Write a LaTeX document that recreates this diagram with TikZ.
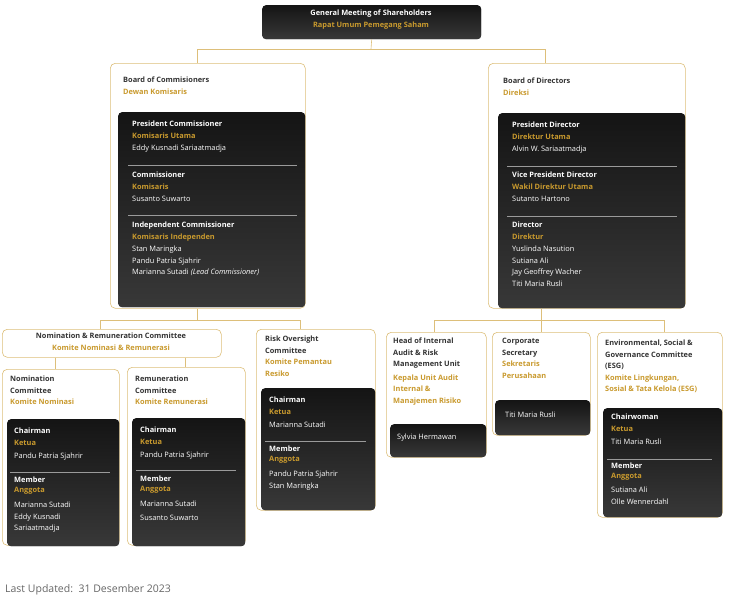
\documentclass[tikz,border=0pt]{standalone}
\usepackage{fontspec}
\setmainfont{Open Sans}
\usetikzlibrary{calc,positioning}
\definecolor{gold}{HTML}{C99A2E}
\definecolor{goldline}{HTML}{DDBF7A}
\definecolor{darkbox}{HTML}{262626}
\definecolor{titlegray}{HTML}{333333}
\definecolor{rulegray}{HTML}{9A9A9A}
\newcommand{\gd}[1]{\textcolor{gold}{\textbf{#1}}}
\newcommand{\hd}[1]{\textbf{#1}}
\tikzstyle{outerbox}=[draw=goldline,fill=white,rounded corners=5pt,line width=0.6pt,anchor=north west,inner sep=0pt]
\tikzstyle{innerbox}=[fill=darkbox,rounded corners=4pt,anchor=north west,inner sep=0pt,top color=black!92,bottom color=black!78]
\tikzstyle{head}=[anchor=north west,inner sep=0pt,align=left,text=titlegray,font=\fontsize{7.4}{11.5}\selectfont]
\tikzstyle{body}=[anchor=north west,inner sep=0pt,align=left,text=white,font=\fontsize{7.4}{11.5}\selectfont]
\tikzstyle{link}=[draw=goldline,line width=0.6pt]
\tikzstyle{divider}=[draw=rulegray,line width=0.6pt]

\begin{document}
\begin{tikzpicture}[x=1pt,y=-1pt]
    \useasboundingbox (0,0) rectangle (730,600);

    % top
    \node[innerbox,minimum width=219pt,minimum height=34pt] (gms) at (262,5) {};
    \node[body,anchor=north,align=center] at (371,10) {\hd{General Meeting of Shareholders}\\\gd{Rapat Umum Pemegang Saham}};

    % boards
    \node[outerbox,minimum width=195pt,minimum height=245pt] (boc) at (110,63) {};
    \node[innerbox,minimum width=187pt,minimum height=195pt] (bocin) at (118,112) {};
    \node[head] at (123,77) {\hd{Board of Commisioners}\\\gd{Dewan Komisaris}};
    \node[body] at (132,121) {\hd{President Commissioner}\\\gd{Komisaris Utama}\\[1pt]Eddy Kusnadi Sariaatmadja};
    \draw[divider] (128,165) -- (297,165);
    \node[body] at (132,172) {\hd{Commissioner}\\\gd{Komisaris}\\[1pt]Susanto Suwarto};
    \draw[divider] (128,215) -- (297,215);
    \node[body] at (132,222) {\hd{Independent Commissioner}\\\gd{Komisaris Independen}\\[1pt]Stan Maringka\\Pandu Patria Sjahrir\\Marianna Sutadi \textit{(Lead Commissioner)}};

    \node[outerbox,minimum width=197pt,minimum height=245pt] (bod) at (488,63) {};
    \node[innerbox,minimum width=187pt,minimum height=195pt] (bodin) at (498,113) {};
    \node[head] at (503,78) {\hd{Board of Directors}\\\gd{Direksi}};
    \node[body] at (512,122) {\hd{President Director}\\\gd{Direktur Utama}\\[1pt]Alvin W. Sariaatmadja};
    \draw[divider] (507,166) -- (677,166);
    \node[body] at (512,172) {\hd{Vice President Director}\\\gd{Wakil Direktur Utama}\\[1pt]Sutanto Hartono};
    \draw[divider] (507,216) -- (677,216);
    \node[body] at (512,222) {\hd{Director}\\\gd{Direktur}\\[1pt]Yuslinda Nasution\\Sutiana Ali\\Jay Geoffrey Wacher\\Titi Maria Rusli};

    % committees under commissioners
    \node[outerbox,minimum width=219pt,minimum height=28pt] (nrc) at (2,329) {};
    \node[head,anchor=north,align=center] at (111,333) {\hd{Nomination \& Remuneration Committee}\\\gd{Komite Nominasi \& Remunerasi}};

    \node[outerbox,minimum width=117pt,minimum height=176pt] (nom) at (2,369) {};
    \node[innerbox,minimum width=112pt,minimum height=127pt] (nomin) at (7,419) {};
    \node[head] at (10,376) {\hd{Nomination}\\\hd{Committee}\\\gd{Komite Nominasi}};
    \node[body] at (14,428) {\hd{Chairman}\\\gd{Ketua}\\[2pt]Pandu Patria Sjahrir};
    \draw[divider] (10,472) -- (110,472);
    \node[body] at (14,477) {\hd{Member}\\[-2pt]\gd{Anggota}\\[4pt]Marianna Sutadi\\Eddy Kusnadi\\Sariaatmadja};

    \node[outerbox,minimum width=118pt,minimum height=178pt] (rem) at (127,367) {};
    \node[innerbox,minimum width=113pt,minimum height=128pt] (remin) at (132,418) {};
    \node[head] at (135,376) {\hd{Remuneration}\\\hd{Committee}\\\gd{Komite Remunerasi}};
    \node[body] at (140,427) {\hd{Chairman}\\\gd{Ketua}\\[2pt]Pandu Patria Sjahrir};
    \draw[divider] (136,470) -- (236,470);
    \node[body] at (140,476) {\hd{Member}\\[-2pt]\gd{Anggota}\\[4pt]Marianna Sutadi\\[2pt]Susanto Suwarto};

    \node[outerbox,minimum width=119pt,minimum height=181pt] (roc) at (256,329) {};
    \node[innerbox,minimum width=114pt,minimum height=122pt] (rocin) at (261,388) {};
    \node[head] at (265,336) {\hd{Risk Oversight}\\\hd{Committee}\\\gd{Komite Pemantau}\\\gd{Resiko}};
    \node[body] at (269,397) {\hd{Chairman}\\\gd{Ketua}\\[2pt]Marianna Sutadi};
    \draw[divider] (265,441) -- (366,441);
    \node[body] at (269,446) {\hd{Member}\\[-2pt]\gd{Anggota}\\[4pt]Pandu Patria Sjahrir\\Stan Maringka};

    % units under directors
    \node[outerbox,minimum width=100pt,minimum height=125pt] (aud) at (386,332) {};
    \node[innerbox,minimum width=96pt,minimum height=33pt] (audin) at (390,424) {};
    \node[head] at (393,338) {\hd{Head of Internal}\\\hd{Audit \& Risk}\\\hd{Management Unit}\\[2pt]\gd{Kepala Unit Audit}\\\gd{Internal \&}\\\gd{Manajemen Risiko}};
    \node[body] at (397,434) {Sylvia Hermawan};

    \node[outerbox,minimum width=98pt,minimum height=103pt] (sec) at (492,332) {};
    \node[innerbox,minimum width=95pt,minimum height=35pt] (secin) at (495,400) {};
    \node[head] at (502,338) {\hd{Corporate}\\\hd{Secretary}\\\gd{Sekretaris}\\\gd{Perusahaan}};
    \node[body] at (505,412) {Titi Maria Rusli};

    \node[outerbox,minimum width=125pt,minimum height=185pt] (esg) at (597,332) {};
    \node[innerbox,minimum width=119pt,minimum height=109pt] (esgin) at (603,408) {};
    \node[head] at (605,340) {\hd{Environmental, Social \&}\\\hd{Governance Committee}\\\hd{(ESG)}\\\gd{Komite Lingkungan,}\\\gd{Sosial \& Tata Kelola (ESG)}};
    \node[body] at (611,414) {\hd{Chairwoman}\\\gd{Ketua}\\[2pt]Titi Maria Rusli};
    \draw[divider] (607,459) -- (712,459);
    \node[body] at (611,463) {\hd{Member}\\[-2pt]\gd{Anggota}\\[3pt]Sutiana Ali\\Olle Wennerdahl};

    % connectors
    \coordinate (topbus) at (371,49);
    \draw[link] (gms.south) -- (topbus);
    \foreach \dest/\xx in {boc/197, bod/545}
        \draw[link] (topbus) -| (\xx,49) -- (\dest.north -| \xx,0);
    \coordinate (lbus) at (197,320);
    \draw[link] (boc.south -| 197,0) -- (lbus);
    \foreach \dest/\xx in {nrc/100, roc/300}
        \draw[link] (lbus) -| (\dest.north -| \xx,0);
    \foreach \dest/\xx in {nom/55, rem/185}
        \draw[link] (nrc.south -| \xx,0) -- (\dest.north -| \xx,0);
    \coordinate (rbus) at (541,320);
    \draw[link] (bod.south -| 541,0) -- (rbus);
    \foreach \dest/\xx in {aud/434, sec/541, esg/664}
        \draw[link] (rbus) -| (\dest.north -| \xx,0);

    \node[anchor=west,inner sep=0pt,text=black!60,font=\fontsize{10.5}{12}\selectfont] (upd) at (5,590) {Last Updated:\ \ 31 Desember 2023};
\end{tikzpicture}
\end{document}
